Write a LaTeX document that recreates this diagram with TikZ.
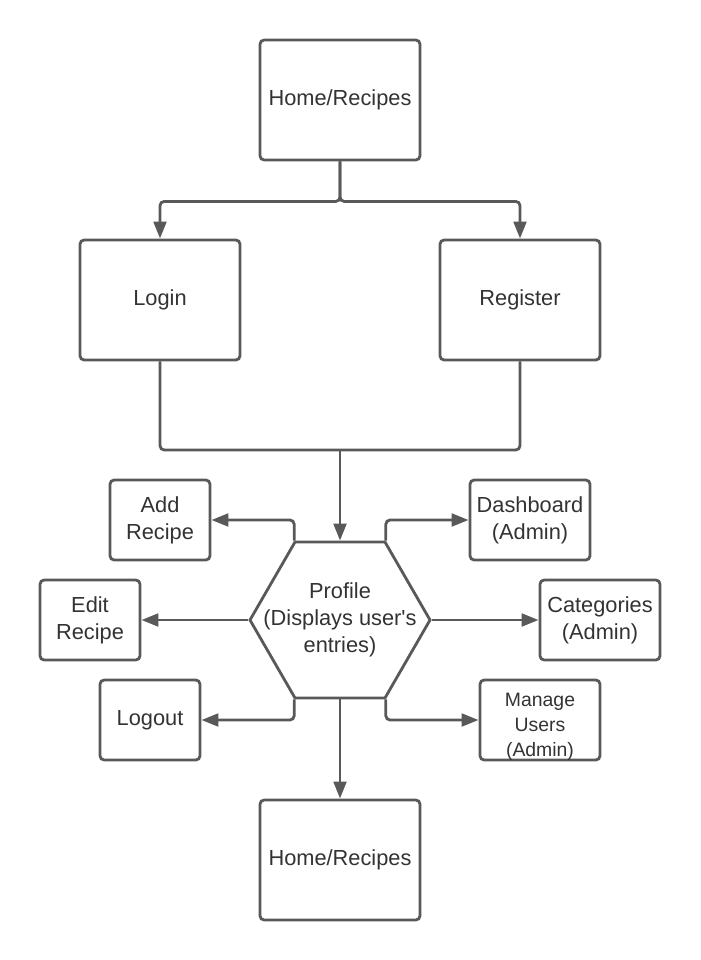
\documentclass[tikz,border=0pt]{standalone}
\usepackage{fontspec}
\setmainfont{Liberation Sans}
\usetikzlibrary{arrows.meta,shapes.geometric}
\definecolor{edgegray}{HTML}{595959}
\definecolor{textgray}{HTML}{333333}

\begin{document}
\begin{tikzpicture}[x=0.025cm, y=-0.025cm,
    box/.style={draw=edgegray, line width=2pt, rounded corners=3pt, fill=white,
      text=textgray, align=center, font=\fontsize{15.5}{19}\selectfont},
    bigbox/.style={box, minimum width=4cm, minimum height=3cm},
    smallbox/.style={box, minimum width=2.5cm, minimum height=2cm, inner sep=1pt},
    adminbox/.style={box, minimum width=3cm, minimum height=2cm, inner sep=1pt},
    hexa/.style={draw=edgegray, line width=2pt, fill=white, regular polygon,
      regular polygon sides=6, minimum size=4.5cm, inner sep=0pt},
    inside/.style={text=textgray, align=center},
    line/.style={draw=edgegray, line width=2pt, rounded corners=3pt},
    link/.style={line, -{Triangle[length=12pt, width=9pt]}}]
  \useasboundingbox (0,0) rectangle (700,960);

  % Top part
  \node[bigbox] (home) at (340,100) {Home/Recipes};
  \node[bigbox] (login) at (160,300) {Login};
  \node[bigbox] (register) at (520,300) {Register};

  % Profile and its pages
  \node[hexa, label={[inside, font=\fontsize{15.5}{19}\selectfont]
      center:Profile\\(Displays user\textquotesingle s\\entries)}]
    (profile) at (340,620) {};
  \node[smallbox] (addrecipe) at (160,520) {Add\\Recipe};
  \node[smallbox] (editrecipe) at (90,620) {Edit\\Recipe};
  \node[smallbox] (logout) at (150,720) {Logout};
  \node[adminbox] (dashboard) at (530,520) {Dashboard\\(Admin)};
  \node[adminbox] (categories) at (600,620) {Categories\\(Admin)};
  \node[adminbox, label={[inside, font=\fontsize{13.8}{17.8}\selectfont,
      yshift=-5pt]center:Manage\\Users\\(Admin)}]
    (manageusers) at (540,720) {};
  \node[bigbox] (homeend) at (340,860) {Home/Recipes};
  \coordinate (join) at (340,450);

  % Connectors
  \draw[link] (home.south) -- ++(0,40) -| (login.north);
  \draw[link] (home.south) -- ++(0,40) -| (register.north);
  \draw[line] (login.south) |- (join) -| (register.south);
  \draw[link] (join) -- (profile.north);
  \draw[link] (profile.120) |- (addrecipe.east);
  \draw[link] (profile.60) |- (dashboard.west);
  \draw[link] (profile.west) -- (editrecipe.east);
  \draw[link] (profile.east) -- (categories.west);
  \draw[link] (profile.240) |- (logout.east);
  \draw[link] (profile.300) |- (manageusers.west);
  \draw[link] (profile.south) -- (homeend.north);
\end{tikzpicture}
\end{document}
